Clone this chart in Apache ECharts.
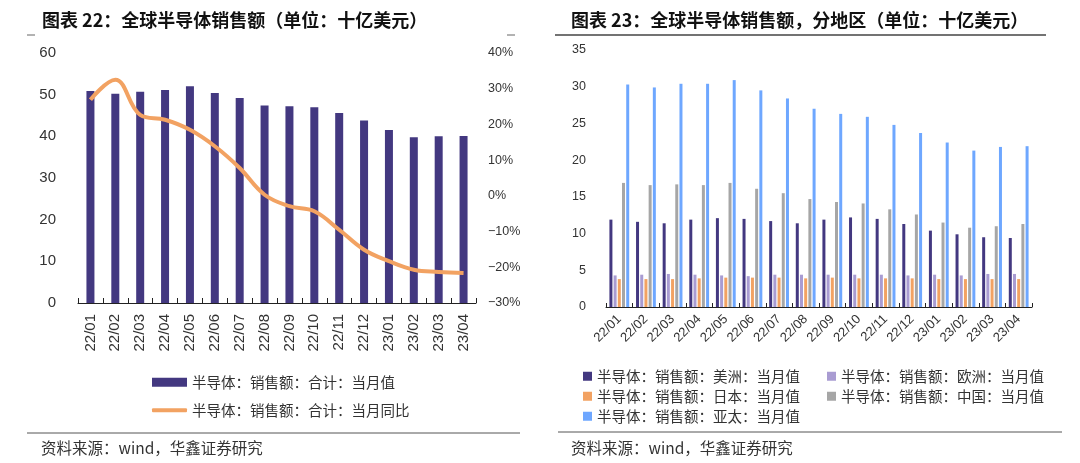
<!DOCTYPE html>
<html>
<head>
<meta charset="utf-8">
<script src="https://cdn.jsdelivr.net/npm/echarts@6/dist/echarts.min.js"></script>
<style>
html,body{margin:0;padding:0;background:#fff;}
#c{width:1080px;height:463px;}
</style>
</head>
<body>
<div id="c"></div>
<script>
var months = ['22/01','22/02','22/03','22/04','22/05','22/06','22/07','22/08','22/09','22/10','22/11','22/12','23/01','23/02','23/03','23/04'];
var totalSales = [50.9, 50.2, 50.7, 51.1, 52.0, 50.4, 49.2, 47.4, 47.2, 47.0, 45.6, 43.8, 41.5, 39.8, 40.0, 40.1];
var totalYoY = [26.9, 32.5, 22.7, 21.3, 18.5, 13.9, 7.8, 0.3, -2.9, -4.3, -9.5, -15.1, -18.3, -20.7, -21.3, -21.6];
var americas = [11.9, 11.6, 11.4, 11.9, 12.1, 12.0, 11.7, 11.4, 11.9, 12.2, 12.0, 11.3, 10.4, 9.9, 9.5, 9.4];
var europe = [4.3, 4.4, 4.5, 4.4, 4.3, 4.2, 4.4, 4.4, 4.4, 4.4, 4.4, 4.3, 4.4, 4.3, 4.5, 4.5];
var japan = [3.8, 3.8, 3.8, 3.9, 4.0, 4.0, 4.0, 3.9, 4.0, 3.9, 3.9, 3.9, 3.8, 3.8, 3.8, 3.8];
var china = [16.9, 16.6, 16.7, 16.6, 16.9, 16.1, 15.5, 14.7, 14.3, 14.1, 13.3, 12.6, 11.5, 10.8, 11.0, 11.3];
var asiaPac = [30.3, 29.9, 30.4, 30.4, 30.9, 29.5, 28.4, 27.0, 26.3, 25.9, 24.8, 23.7, 22.4, 21.3, 21.8, 21.9];
var leftTicks = [0, 10, 20, 30, 40, 50, 60];
var rightPctTicks = [-30, -20, -10, 0, 10, 20, 30, 40];
var regionTicks = [0, 5, 10, 15, 20, 25, 30, 35];

var nTotal = '半导体：销售额：合计：当月值';
var nYoY = '半导体：销售额：合计：当月同比';
var nAm = '半导体：销售额：美洲：当月值';
var nEu = '半导体：销售额：欧洲：当月值';
var nJp = '半导体：销售额：日本：当月值';
var nCn = '半导体：销售额：中国：当月值';
var nAp = '半导体：销售额：亚太：当月值';

var cPurple = '#433880', cOrange = '#F2A262', cLav = '#A99CD2', cGray = '#A6A6A6', cBlue = '#6EA7FF';
var txt = '#333';
var sansEn = 'Liberation Sans, Arial, sans-serif';
var cjk = '"Noto Sans CJK SC", sans-serif';

var chart = echarts.init(document.getElementById('c'), null, {renderer: 'canvas'});

var axisLineStyle = {show: true, lineStyle: {color: '#222', width: 1}};
var legendText = {fontFamily: cjk, fontSize: 14.5, color: txt};

var option = {
  animation: false,
  backgroundColor: '#fff',
  title: [
    {text: '图表 22：全球半导体销售额（单位：十亿美元）', left: 37, top: 6,
     textStyle: {fontFamily: cjk, fontSize: 18, fontWeight: 'bold', color: '#111'}},
    {text: '图表 23：全球半导体销售额，分地区（单位：十亿美元）', left: 566, top: 6,
     textStyle: {fontFamily: cjk, fontSize: 18, fontWeight: 'bold', color: '#111'}},
    {text: '资料来源：wind，华鑫证券研究', left: 36, top: 435,
     textStyle: {fontFamily: cjk, fontSize: 15.5, fontWeight: 'normal', color: txt}},
    {text: '资料来源：wind，华鑫证券研究', left: 566, top: 435,
     textStyle: {fontFamily: cjk, fontSize: 15.5, fontWeight: 'normal', color: txt}}
  ],
  graphic: [
    {type: 'line', shape: {x1: 555, y1: 35, x2: 1046, y2: 35}, style: {stroke: '#444', lineWidth: 1.5}},
    {type: 'line', shape: {x1: 27, y1: 35, x2: 35, y2: 35}, style: {stroke: '#666', lineWidth: 1}},
    {type: 'line', shape: {x1: 507, y1: 35, x2: 515, y2: 35}, style: {stroke: '#666', lineWidth: 1}},
    {type: 'line', shape: {x1: 27, y1: 433, x2: 520, y2: 433}, style: {stroke: '#555', lineWidth: 1}},
    {type: 'line', shape: {x1: 558, y1: 432, x2: 1062, y2: 432}, style: {stroke: '#555', lineWidth: 1}}
  ],
  legend: [
    {data: [{name: nTotal, icon: 'rect'}], left: 147, top: 370, itemWidth: 35, itemHeight: 9,
     textStyle: legendText, selectedMode: false},
    {data: [{name: nYoY, icon: 'roundRect'}], left: 147, top: 398, itemWidth: 35, itemHeight: 4,
     textStyle: legendText, selectedMode: false},
    {data: [{name: nAm, icon: 'rect'}, {name: nJp, icon: 'rect'}, {name: nAp, icon: 'rect'}],
     orient: 'vertical', left: 578, top: 364, itemWidth: 9, itemHeight: 9, itemGap: 5.5,
     textStyle: legendText, selectedMode: false},
    {data: [{name: nEu, icon: 'rect'}, {name: nCn, icon: 'rect'}],
     orient: 'vertical', left: 822, top: 364, itemWidth: 9, itemHeight: 9, itemGap: 5.5,
     textStyle: legendText, selectedMode: false}
  ],
  grid: [
    {left: 78, right: 604, top: 53, bottom: 160, containLabel: false},
    {left: 606, right: 48, top: 50, bottom: 156, containLabel: false}
  ],
  xAxis: [
    {type: 'category', gridIndex: 0, data: months, boundaryGap: true,
     axisLine: axisLineStyle,
     axisTick: {show: true, inside: true, length: 5, alignWithLabel: false, lineStyle: {color: '#222'}},
     axisLabel: {rotate: 90, margin: 11, fontFamily: sansEn, fontSize: 15, color: txt, interval: 0}},
    {type: 'category', gridIndex: 1, data: months, boundaryGap: true,
     axisLine: axisLineStyle,
     axisTick: {show: true, inside: true, length: 4, lineStyle: {color: '#222'}},
     axisLabel: {rotate: 45, margin: 10, fontFamily: sansEn, fontSize: 13, color: txt, interval: 0}}
  ],
  yAxis: [
    {type: 'value', gridIndex: 0, min: leftTicks[0], max: leftTicks[leftTicks.length - 1], interval: 10,
     axisLine: {show: false}, axisTick: {show: false}, splitLine: {show: false},
     axisLabel: {margin: 22, fontFamily: sansEn, fontSize: 15, color: txt}},
    {type: 'value', gridIndex: 0, position: 'right', min: rightPctTicks[0],
     max: rightPctTicks[rightPctTicks.length - 1], interval: 10,
     axisLine: {show: false}, axisTick: {show: false}, splitLine: {show: false},
     axisLabel: {margin: 12, fontFamily: sansEn, fontSize: 12.5, color: txt,
       formatter: function (v) { return String(v).replace('-', '\u2212') + '%'; }}},
    {type: 'value', gridIndex: 1, min: regionTicks[0], max: regionTicks[regionTicks.length - 1], interval: 5,
     axisLine: {show: false}, axisTick: {show: false}, splitLine: {show: false},
     axisLabel: {margin: 20, fontFamily: sansEn, fontSize: 12.5, color: txt}}
  ],
  series: [
    {name: nTotal, type: 'bar', xAxisIndex: 0, yAxisIndex: 0, data: totalSales, barWidth: 8,
     itemStyle: {color: cPurple}},
    {name: nYoY, type: 'line', xAxisIndex: 0, yAxisIndex: 1, data: totalYoY, smooth: 0.4,
     symbol: 'none', lineStyle: {color: cOrange, width: 4}, itemStyle: {color: cOrange}},
    {name: nAm, type: 'bar', xAxisIndex: 1, yAxisIndex: 2, data: americas, barWidth: 3, barGap: '40%',
     itemStyle: {color: cPurple}},
    {name: nEu, type: 'bar', xAxisIndex: 1, yAxisIndex: 2, data: europe, barWidth: 3, barGap: '40%',
     itemStyle: {color: cLav}},
    {name: nJp, type: 'bar', xAxisIndex: 1, yAxisIndex: 2, data: japan, barWidth: 3, barGap: '40%',
     itemStyle: {color: cOrange}},
    {name: nCn, type: 'bar', xAxisIndex: 1, yAxisIndex: 2, data: china, barWidth: 3, barGap: '40%',
     itemStyle: {color: cGray}},
    {name: nAp, type: 'bar', xAxisIndex: 1, yAxisIndex: 2, data: asiaPac, barWidth: 3, barGap: '40%',
     itemStyle: {color: cBlue}}
  ]
};
chart.setOption(option);
</script>
</body>
</html>
